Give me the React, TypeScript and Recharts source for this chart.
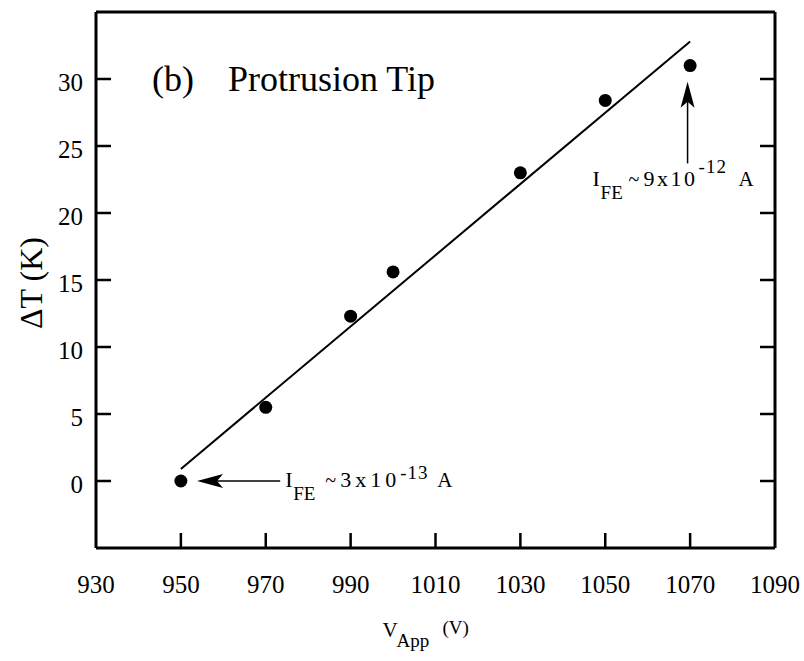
import { ComposedChart, Scatter, Line, XAxis, YAxis, ReferenceLine } from 'recharts';

// measured points: applied voltage (V) vs temperature rise (K)
const voltage = [950, 970, 990, 1000, 1030, 1050, 1070];
const deltaT = [0, 5.5, 12.3, 15.6, 23.0, 28.4, 31.0];

// straight-line fit drawn through the points
const fitVoltage = [950, 1070];
const fitDeltaT = [0.9, 32.8];

const xTicks = [930, 950, 970, 990, 1010, 1030, 1050, 1070, 1090];
const yTicks = [0, 5, 10, 15, 20, 25, 30];

// arrow annotations: [tail, tip] in data units
const lowArrow = [
  { x: 973.4, y: 0 },
  { x: 953.8, y: 0 },
];
const highArrow = [
  { x: 1069.4, y: 23.7 },
  { x: 1069.4, y: 29.8 },
];

const FONT = '"Liberation Serif", "Times New Roman", serif';
const INK = '#000';
const TICK = 15;

const points = voltage.map((v, i) => ({ x: v, y: deltaT[i] }));
const fit = fitVoltage.map((v, i) => ({ x: v, y: fitDeltaT[i] }));

const isEdge = (v: number) => v === 930 || v === 1090;

const BottomTick = ({ x, y, payload }: any) => (
  <g>
    {!isEdge(payload.value) && <line x1={x} y1={y} x2={x} y2={y - TICK} stroke={INK} strokeWidth={2.5} />}
    <text x={x} y={y + 45} textAnchor="middle" fontSize={25} fontFamily={FONT} fill={INK}>
      {payload.value}
    </text>
  </g>
);

const TopTick = ({ x, y, payload }: any) =>
  isEdge(payload.value) ? <g /> : <line x1={x} y1={y} x2={x} y2={y + TICK} stroke={INK} strokeWidth={2.5} />;

const LeftTick = ({ x, y, payload }: any) => (
  <g>
    <line x1={x} y1={y} x2={x + TICK} y2={y} stroke={INK} strokeWidth={2.5} />
    <text x={x - 13} y={y + 12} textAnchor="end" fontSize={25} fontFamily={FONT} fill={INK}>
      {payload.value}
    </text>
  </g>
);

const RightTick = ({ x, y }: any) => <line x1={x} y1={y} x2={x - TICK} y2={y} stroke={INK} strokeWidth={2.5} />;

// I_FE ~ N x 10^exp A
function CurrentNote({ x, y, mant, exp, gap, supX, supDy, aX, spacing }: any) {
  return (
    <text fontFamily={FONT} fill={INK}>
      <tspan x={x} y={y} fontSize={22}>I</tspan>
      <tspan x={x + 8} y={y + 13} fontSize={19}>FE</tspan>
      <tspan x={x + gap} y={y} fontSize={20}>~</tspan>
      <tspan x={x + gap + 15} y={y} fontSize={22} letterSpacing={spacing}>{mant}x10</tspan>
      <tspan x={x + supX} y={y - supDy} fontSize={19} letterSpacing={1}>{exp}</tspan>
      <tspan x={x + aX} y={y} fontSize={21}>A</tspan>
    </text>
  );
}

function arrowShape(note: any) {
  return (p: any) => {
    const { x1, y1, x2, y2 } = p;
    const len = Math.hypot(x2 - x1, y2 - y1) || 1;
    const ux = (x2 - x1) / len;
    const uy = (y2 - y1) / len;
    const hl = 26;
    const hw = 7;
    const bx = x2 - ux * hl;
    const by = y2 - uy * hl;
    const notch = 6;
    return (
      <g>
        <line x1={x1} y1={y1} x2={bx + ux * notch} y2={by + uy * notch} stroke={INK} strokeWidth={1.5} />
        <polygon
          points={`${x2},${y2} ${bx - uy * hw},${by + ux * hw} ${bx + ux * notch},${by + uy * notch} ${bx + uy * hw},${by - ux * hw}`}
          fill={INK}
        />
        <CurrentNote x={x1 + note.dx} y={y1 + note.dy} {...note} />
      </g>
    );
  };
}

const xLabel = ({ viewBox }: any) => {
  const cx = viewBox.x + viewBox.width / 2 - 53;
  const by = viewBox.y + 89;
  return (
    <text fontFamily={FONT} fill={INK}>
      <tspan x={cx} y={by} fontSize={21}>V</tspan>
      <tspan x={cx + 14} y={by + 10} fontSize={19}>App</tspan>
      <tspan x={cx + 60} y={by - 3} fontSize={19}>(V)</tspan>
    </text>
  );
};

const yLabel = () => (
  <text
    x={42}
    y={283}
    transform="rotate(-90 42 283)"
    textAnchor="middle"
    fontSize={32}
    fontFamily={FONT}
    fill={INK}
  >
    ΔT (K)
  </text>
);

const title = ({ viewBox }: any) => (
  <text fontSize={36} fontFamily={FONT} fill={INK}>
    <tspan x={viewBox.x + 56} y={viewBox.y + 80}>(b)</tspan>
    <tspan x={viewBox.x + 132} y={viewBox.y + 80}>Protrusion Tip</tspan>
  </text>
);

export default function App() {
  return (
    <div style={{ position: 'absolute', left: 0, top: 0, background: '#fff' }}>
      <ComposedChart width={804} height={661} margin={{ top: 11, right: 28, bottom: 112, left: 16 }}>
        <XAxis
          type="number"
          dataKey="x"
          domain={[930, 1090]}
          ticks={xTicks}
          interval={0}
          allowDataOverflow
          height={1}
          tickSize={0}
          tickMargin={0}
          tickLine={false}
          tick={<BottomTick />}
          axisLine={{ stroke: INK, strokeWidth: 3 }}
          label={{ content: xLabel }}
        />
        <XAxis
          xAxisId="top"
          orientation="top"
          type="number"
          domain={[930, 1090]}
          ticks={xTicks}
          interval={0}
          allowDataOverflow
          height={1}
          tickSize={0}
          tickMargin={0}
          tickLine={false}
          tick={<TopTick />}
          axisLine={{ stroke: INK, strokeWidth: 3 }}
          label={{ content: title }}
        />
        <YAxis
          type="number"
          dataKey="y"
          domain={[-5, 35]}
          ticks={yTicks}
          interval={0}
          allowDataOverflow
          width={80}
          tickSize={0}
          tickMargin={0}
          tickLine={false}
          tick={<LeftTick />}
          axisLine={{ stroke: INK, strokeWidth: 3 }}
          label={{ content: yLabel }}
        />
        <YAxis
          yAxisId="right"
          orientation="right"
          type="number"
          domain={[-5, 35]}
          ticks={yTicks}
          interval={0}
          allowDataOverflow
          width={1}
          tickSize={0}
          tickMargin={0}
          tickLine={false}
          tick={<RightTick />}
          axisLine={{ stroke: INK, strokeWidth: 3 }}
        />
        <Line
          data={fit}
          dataKey="y"
          type="linear"
          stroke={INK}
          strokeWidth={2}
          dot={false}
          activeDot={false}
          isAnimationActive={false}
        />
        <Scatter
          data={points}
          dataKey="y"
          fill={INK}
          isAnimationActive={false}
          shape={(p: any) => <circle cx={p.cx} cy={p.cy} r={6.5} fill={INK} />}
        />
        <ReferenceLine
          segment={lowArrow}
          shape={arrowShape({ dx: 5, dy: 6, mant: '3', exp: '-13', gap: 40, supX: 115, supDy: 8, aX: 152, spacing: 4 })}
        />
        <ReferenceLine
          segment={highArrow}
          shape={arrowShape({ dx: -95, dy: 23, mant: '9', exp: '-12', gap: 36, supX: 106, supDy: 13, aX: 146, spacing: 2.5 })}
        />
      </ComposedChart>
    </div>
  );
}
